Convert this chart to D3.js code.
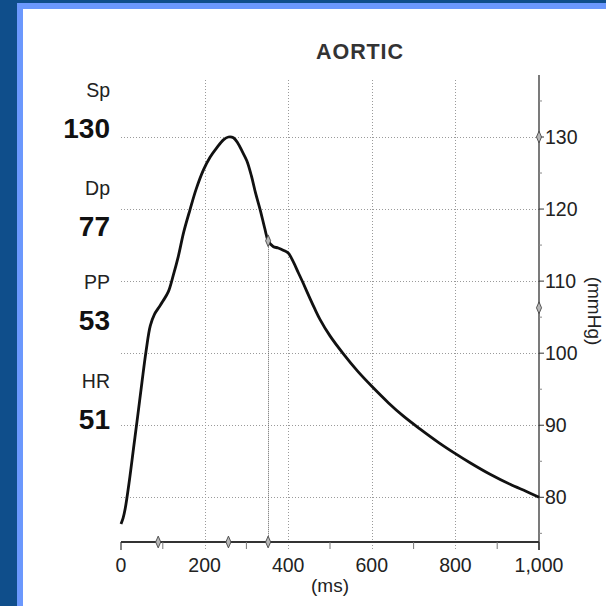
<!DOCTYPE html>
<meta charset="utf-8">
<html>
<head>
<title>AORTIC</title>
<script src="https://cdn.jsdelivr.net/npm/d3@7"></script>
<style>
    *{ margin:0; padding:0;}
    body{ background:#0f4e8b; width:606px; height:606px; overflow:hidden;}
    svg{ display:block; font-family:"Liberation Sans", Arial, sans-serif;}
</style>
</head>
<body>
<div id="chart"></div>
<script>
// pressure trace (ms, mmHg)
var timeMs = [0, 5, 10, 20, 30, 40, 50, 60, 70, 80, 90, 100, 113, 125, 137, 150, 165, 180, 197, 213, 229, 245, 257, 269,
    280, 290, 301, 312, 322, 333, 344, 352, 364, 376, 388, 400, 412, 424, 436, 452, 464, 476, 500, 532, 566, 600, 640,
    675, 715, 760, 799, 835, 883, 931, 970, 1000];
var pressure = [76.3, 77.1, 78.4, 82.3, 86.8, 91.3, 95.9, 100.3, 103.8, 105.4, 106.3, 107.2, 108.5, 110.8, 113.4, 116.8,
    119.9, 122.8, 125.4, 127.2, 128.5, 129.6, 130, 129.9, 129.1, 128, 126.7, 124.6, 122.2, 119.9, 117.3, 115.6, 114.8,
    114.6, 114.3, 113.9, 112.7, 111.2, 109.7, 107.6, 106.1, 104.7, 102.4, 99.9, 97.5, 95.4, 93.1, 91.3, 89.5, 87.6,
    86.1, 84.8, 83.2, 81.8, 80.8, 80.0];

var xTicks = [0, 200, 400, 600, 800, 1000];
var xMinor = [100, 300, 500, 700, 900];
var yTicks = [80, 90, 100, 110, 120, 130];
var yMinor = [75, 85, 95, 105, 115, 125, 135];

var xMarkers = [89, 257, 352];      // diamonds on time axis
var yMarkers = [130, 106.3];        // diamonds on pressure axis
var dicroticMs = 352, dicroticP = 115.6;

var statNames = ["Sp", "Dp", "PP", "HR"];
var statValues = ["130", "77", "53", "51"];

var W = 606, H = 606;
var svg = d3.select("#chart").append("svg").attr("width", W).attr("height", H);

// panel + light blue frame
svg.append("rect").attr("x", 17).attr("y", 3).attr("width", W).attr("height", H).attr("fill", "#6b98fd");
svg.append("rect").attr("x", 23).attr("y", 9).attr("width", W).attr("height", H).attr("fill", "#fff");

var x = d3.scaleLinear().domain([0, 1000]).range([121, 539]);
var y = d3.scaleLinear().domain([80, 130]).range([497.3, 137]);
var yBottom = 542, yTop = 75;

// grid
var grid = svg.append("g").attr("stroke", "#9a9a9a").attr("stroke-width", 1).attr("stroke-dasharray", "1,2");
grid.selectAll(".hg").data(yTicks).enter().append("line")
    .attr("x1", x(0)).attr("x2", x(1000))
    .attr("y1", function(d){ return Math.round(y(d)) + 0.5; })
    .attr("y2", function(d){ return Math.round(y(d)) + 0.5; });
grid.selectAll(".vg").data(xTicks.slice(1, -1)).enter().append("line")
    .attr("y1", 80).attr("y2", yBottom + 8)
    .attr("x1", function(d){ return Math.round(x(d)) + 0.5; })
    .attr("x2", function(d){ return Math.round(x(d)) + 0.5; });

// dicrotic notch drop line
svg.append("line")
    .attr("x1", Math.round(x(dicroticMs)) + 0.5).attr("x2", Math.round(x(dicroticMs)) + 0.5)
    .attr("y1", y(dicroticP)).attr("y2", yBottom)
    .attr("stroke", "#666").attr("stroke-width", 1).attr("stroke-dasharray", "1,1");

// bottom axis
var ax = svg.append("g").attr("stroke", "#333");
ax.append("line").attr("x1", x(0)).attr("x2", x(1000)).attr("y1", yBottom).attr("y2", yBottom).attr("stroke-width", 2.2);
ax.selectAll(".xt").data([0, 1000]).enter().append("line")
    .attr("x1", function(d){ return x(d); }).attr("x2", function(d){ return x(d); })
    .attr("y1", yBottom).attr("y2", yBottom + 8).attr("stroke-width", 1.2);
ax.selectAll(".xm").data(xMinor).enter().append("line")
    .attr("x1", function(d){ return x(d); }).attr("x2", function(d){ return x(d); })
    .attr("y1", yBottom).attr("y2", yBottom + 7).attr("stroke-width", 1).attr("stroke", "#777");

svg.selectAll(".xl").data(xTicks).enter().append("text")
    .attr("x", function(d){ return x(d); }).attr("y", 572)
    .attr("text-anchor", "middle").attr("font-size", 19.5).attr("fill", "#222")
    .text(function(d){ return d3.format(",")(d); });
svg.append("text").attr("x", 330).attr("y", 592).attr("text-anchor", "middle")
    .attr("font-size", 19).attr("fill", "#222").text("(ms)");

// right axis
ax.append("line").attr("x1", x(1000)).attr("x2", x(1000)).attr("y1", yTop).attr("y2", yBottom + 8).attr("stroke-width", 1.3);
ax.selectAll(".yt").data(yTicks).enter().append("line")
    .attr("x1", x(1000)).attr("x2", x(1000) + 5)
    .attr("y1", function(d){ return y(d); }).attr("y2", function(d){ return y(d); }).attr("stroke-width", 1);
ax.selectAll(".ym").data(yMinor).enter().append("line")
    .attr("x1", x(1000)).attr("x2", x(1000) + 3)
    .attr("y1", function(d){ return y(d); }).attr("y2", function(d){ return y(d); }).attr("stroke-width", 1).attr("stroke", "#888");
svg.selectAll(".yl").data(yTicks).enter().append("text")
    .attr("x", 545).attr("y", function(d){ return y(d) + 7; })
    .attr("font-size", 19.5).attr("fill", "#222").text(function(d){ return d; });
svg.append("text").attr("transform", "translate(588,311) rotate(90)")
    .attr("text-anchor", "middle").attr("font-size", 19).attr("fill", "#222").text("(mmHg)");

// title
svg.append("text").attr("x", 360).attr("y", 59).attr("text-anchor", "middle")
    .attr("font-size", 21.5).attr("font-weight", "bold").attr("fill", "#333").attr("letter-spacing", 0.9).text("AORTIC");

// left stats
var statBase = [97, 195, 289, 388];
statNames.forEach(function(n, i) {
    svg.append("text").attr("x", 110).attr("y", statBase[i]).attr("text-anchor", "end")
        .attr("font-size", 19.5).attr("fill", "#222").text(n);
    svg.append("text").attr("x", 110).attr("y", statBase[i] + 41).attr("text-anchor", "end")
        .attr("font-size", 28).attr("font-weight", "bold").attr("fill", "#111").text(statValues[i]);
});

// pressure curve
var pts = timeMs.map(function(t, i){ return [t, pressure[i]]; });
svg.append("path").datum(pts)
    .attr("fill", "none").attr("stroke", "#111").attr("stroke-width", 2.8).attr("stroke-linejoin", "round")
    .attr("d", d3.line().x(function(d){ return x(d[0]); }).y(function(d){ return y(d[1]); }).curve(d3.curveCatmullRom.alpha(0.5)));

// diamond markers
var diamond = d3.symbol().type(d3.symbolDiamond).size(40);
function mark(cx, cy) {
    svg.append("path").attr("d", diamond)
        .attr("transform", "translate(" + cx + "," + cy + ") scale(0.75,1)")
        .attr("fill", "#b8b8b8").attr("stroke", "#444").attr("stroke-width", 1);
}
xMarkers.forEach(function(t){ mark(x(t), yBottom); });
yMarkers.forEach(function(p){ mark(x(1000), y(p)); });
mark(x(dicroticMs), y(dicroticP));
</script>
</body>
</html>
